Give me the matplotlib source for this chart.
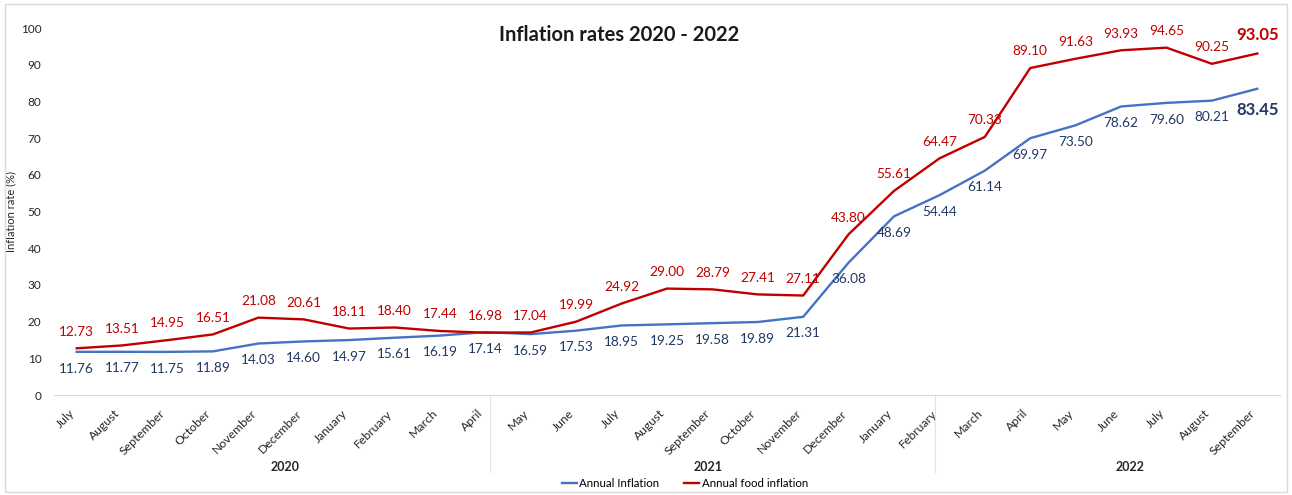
import numpy as np
import matplotlib.pyplot as plt
from matplotlib.patches import Rectangle

plt.rcParams['font.family'] = ['Lato', 'DejaVu Sans']

months = ['July', 'August', 'September', 'October', 'November', 'December',
          'January', 'February', 'March', 'April', 'May', 'June',
          'July', 'August', 'September', 'October', 'November', 'December',
          'January', 'February', 'March', 'April', 'May', 'June',
          'July', 'August', 'September']
annual = [11.76, 11.77, 11.75, 11.89, 14.03, 14.60, 14.97, 15.61, 16.19, 17.14,
          16.59, 17.53, 18.95, 19.25, 19.58, 19.89, 21.31, 36.08, 48.69, 54.44,
          61.14, 69.97, 73.50, 78.62, 79.60, 80.21, 83.45]
food = [12.73, 13.51, 14.95, 16.51, 21.08, 20.61, 18.11, 18.40, 17.44, 16.98,
        17.04, 19.99, 24.92, 29.00, 28.79, 27.41, 27.11, 43.80, 55.61, 64.47,
        70.33, 89.10, 91.63, 93.93, 94.65, 90.25, 93.05]
years = ['2020', '2021', '2022']
year_edges = [9.1, 18.9]
year_pos = [4.6, 13.9, 23.2]

blue = '#4472C4'
red = '#C00000'
navy = '#203864'

fig = plt.figure(figsize=(12.92, 4.95), dpi=100)
ax = fig.add_axes([0.0418, 0.2020, 0.9489, 0.7414])
fig.patches.append(Rectangle((0.004, 0.006), 0.992, 0.985, transform=fig.transFigure,
                             fill=False, edgecolor='#D9D9D9', linewidth=1))

x = np.arange(len(months))
ax.plot(x, annual, color=blue, lw=1.7, label='Annual Inflation')
ax.plot(x, food, color=red, lw=1.7, label='Annual food inflation')

# value labels: food above the line, overall inflation below
last = len(x) - 1
for i in x:
    big = i == last
    ax.annotate(f'{food[i]:.2f}', (i, food[i]), xytext=(0, 13 if big else 12),
                textcoords='offset points', ha='center', va='center',
                color=red, fontsize=12 if big else 9.8,
                fontweight='bold' if big else 'normal', clip_on=False)
    ax.annotate(f'{annual[i]:.2f}', (i, annual[i]), xytext=(0, -15 if big else -12),
                textcoords='offset points', ha='center', va='center',
                color=navy, fontsize=12 if big else 9.8,
                fontweight='bold' if big else 'normal', clip_on=False)

ax.set_xlim(-0.5, 26.5)
ax.set_ylim(0, 100)
ax.set_yticks(range(0, 101, 10))
ax.set_xticks(x)
ax.set_xticklabels(months, rotation=45, ha='right')
ax.tick_params(axis='both', length=0, labelsize=8.8, colors='#262626')
ax.tick_params(axis='x', pad=9)
ax.tick_params(axis='y', pad=9, labelsize=8.5)
for s in ['top', 'right', 'left']:
    ax.spines[s].set_visible(False)
ax.spines['bottom'].set_color('#D9D9D9')
ax.set_ylabel('Inflation rate (%)', fontsize=8, color='#262626')
ax.yaxis.set_label_coords(-0.031, 0.5)

# year groups under the month labels
xt = ax.get_xaxis_transform()
for e in year_edges:
    ax.plot([e, e], [0, -0.21], transform=xt, color='#E3E3E3', lw=0.8, clip_on=False)
for p, yr in zip(year_pos, years):
    ax.text(p, -0.196, yr, transform=xt, ha='center', va='center',
            fontsize=9, fontweight='bold', color='#262626')

fig.text(0.479, 0.929, 'Inflation rates 2020 - 2022', ha='center', va='center',
         fontsize=14.5, fontweight='bold', color='#1a1a1a')
fig.legend(loc='center', bbox_to_anchor=(0.53, 0.024), ncol=2, frameon=False,
           fontsize=8.3, handlelength=1.3, handletextpad=0.2, columnspacing=2.2)

fig.savefig('out.png', dpi=100)
